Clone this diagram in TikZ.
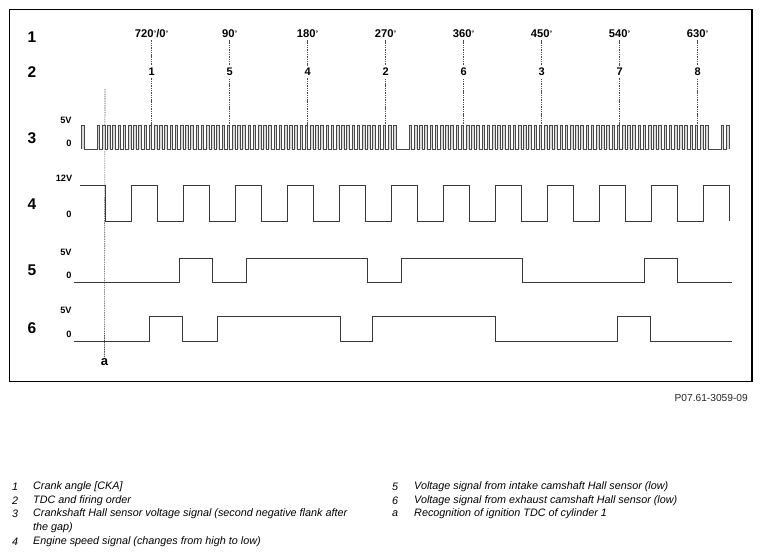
\documentclass[tikz,border=0pt]{standalone}
\usepackage{fontspec}
\setmainfont{Liberation Sans}
\newcommand\dg{{\fontsize{6.5}{6.5}\selectfont\raisebox{2.8pt}{°}}}
\begin{document}
\begin{tikzpicture}[x=1pt,y=-1pt,
  sig/.style={draw=black!78,line width=0.8pt,line join=miter},
  tooth/.style={draw=black!72,fill=black!15,line width=0.6pt,line join=miter},
  tdc/.style={draw=black!70,line width=0.6pt,dash pattern=on 1.4pt off 0.9pt},
  rowlbl/.style={font=\fontsize{15.5}{16}\selectfont\bfseries,inner sep=0pt},
  anglbl/.style={font=\fontsize{11.2}{12}\selectfont\bfseries,inner sep=2pt},
  firelbl/.style={font=\fontsize{11}{12}\selectfont\bfseries,inner sep=2.5pt},
  vlbl/.style={font=\fontsize{9.2}{9.2}\selectfont\bfseries,inner sep=0pt},
  leg/.style={font=\fontsize{10.8}{11}\selectfont\itshape,anchor=west,inner sep=0pt}
]
\useasboundingbox (0,0) rectangle (762,558);
\fill[white] (0,0) rectangle (762,558);
\draw[line width=1.2pt] (9.5,9.5) rectangle (752,381.5);

% row labels
\node[rowlbl] (r1) at (32,37) {1};
\node[rowlbl] (r2) at (32,72) {2};
\node[rowlbl] (r3) at (32,138) {3};
\node[rowlbl] (r4) at (32,204) {4};
\node[rowlbl] (r5) at (32,270) {5};
\node[rowlbl] (r6) at (32,328) {6};

% voltage labels
\node[vlbl] (v3h) at (66,120) {5V};
\node[vlbl] (v3l) at (69,143) {0};
\node[vlbl] (v4h) at (64,178.5) {12V};
\node[vlbl] (v4l) at (69,214) {0};
\node[vlbl] (v5h) at (66,252) {5V};
\node[vlbl] (v5l) at (69,275) {0};
\node[vlbl] (v6h) at (66,310) {5V};
\node[vlbl] (v6l) at (69,334) {0};

% crank angles, firing order, TDC lines
\foreach \j/\ang/\cyl in {0/{720\dg/0\dg}/1,1/{90\dg}/5,2/{180\dg}/4,3/{270\dg}/2,4/{360\dg}/6,5/{450\dg}/3,6/{540\dg}/7,7/{630\dg}/8}{
  \node[anglbl] (ang\j) at ({151.6+78*\j},34) {\ang};
  \node[firelbl] (f\j) at ({151.6+78*\j},72) {\cyl};
  \coordinate (t\j) at ({151.6+78*\j},125);
  \draw[tdc] (ang\j.south) -- (f\j.north);
  \draw[tdc] (f\j.south) -- (t\j);
}

% recognition line a
\node[font=\fontsize{13}{13}\selectfont\bfseries,inner sep=1pt] (a) at (104.5,362) {a};
\coordinate (atop) at (105,89);
\draw[tdc] (atop) -- (a.north);

% signal 3: crankshaft Hall sensor (60-2 wheel)
\draw[tooth] (81.4,149) -- (81.4,125) -- (84,125) -- (84,149)
  \foreach \k in {0,...,57,60,61,...,117,120,121}{
    -- ({97+5.2*\k},149) -- ({97+5.2*\k},125) -- ({99.6+5.2*\k},125) -- ({99.6+5.2*\k},149)
  };

% signal 4: engine speed
\draw[sig] (80,185) -- (105,185) -- (105,221)
  \foreach \k in {0,...,11}{
    -- ({131+52*\k},221) -- ({131+52*\k},185) -- ({157+52*\k},185) -- ({157+52*\k},221)
  };

% signal 5: intake camshaft
\draw[sig] (74,282) -- (179,282) -- (179,258) -- (212.7,258) -- (212.7,282)
  -- (246,282) -- (246,258) -- (367.7,258) -- (367.7,282) -- (401,282)
  -- (401,258) -- (522.7,258) -- (522.7,282) -- (644,282) -- (644,258)
  -- (677.7,258) -- (677.7,282) -- (731.7,282);

% signal 6: exhaust camshaft
\draw[sig] (74,341) -- (149,341) -- (149,316.5) -- (182.7,316.5) -- (182.7,341)
  -- (217,341) -- (217,316.5) -- (340.7,316.5) -- (340.7,341) -- (372.7,341)
  -- (372.7,316.5) -- (495.7,316.5) -- (495.7,341) -- (617.3,341) -- (617.3,316.5)
  -- (650.7,316.5) -- (650.7,341) -- (731.7,341);

% figure code
\node[font=\fontsize{10.2}{10}\selectfont,anchor=east,inner sep=0pt,text=black!85] (code) at (748,398) {P07.61-3059-09};

% legend
\node[leg] (l1n) at (12,487) {1};
\node[leg] (l1t) at (33,487) {Crank angle [CKA]};
\node[leg] (l2n) at (12,500.5) {2};
\node[leg] (l2t) at (33,500.5) {TDC and firing order};
\node[leg] (l3n) at (12,514) {3};
\node[leg] (l3t) at (33,514) {Crankshaft Hall sensor voltage signal (second negative flank after};
\node[leg] (l3u) at (33,527.5) {the gap)};
\node[leg] (l4n) at (12,541.5) {4};
\node[leg] (l4t) at (33,541.5) {Engine speed signal (changes from high to low)};
\node[leg] (l5n) at (392,487) {5};
\node[leg] (l5t) at (414,487) {Voltage signal from intake camshaft Hall sensor (low)};
\node[leg] (l6n) at (392,500.5) {6};
\node[leg] (l6t) at (414,500.5) {Voltage signal from exhaust camshaft Hall sensor (low)};
\node[leg] (lan) at (392,514) {a};
\node[leg] (lat) at (414,514) {Recognition of ignition TDC of cylinder 1};
\end{tikzpicture}
\end{document}
